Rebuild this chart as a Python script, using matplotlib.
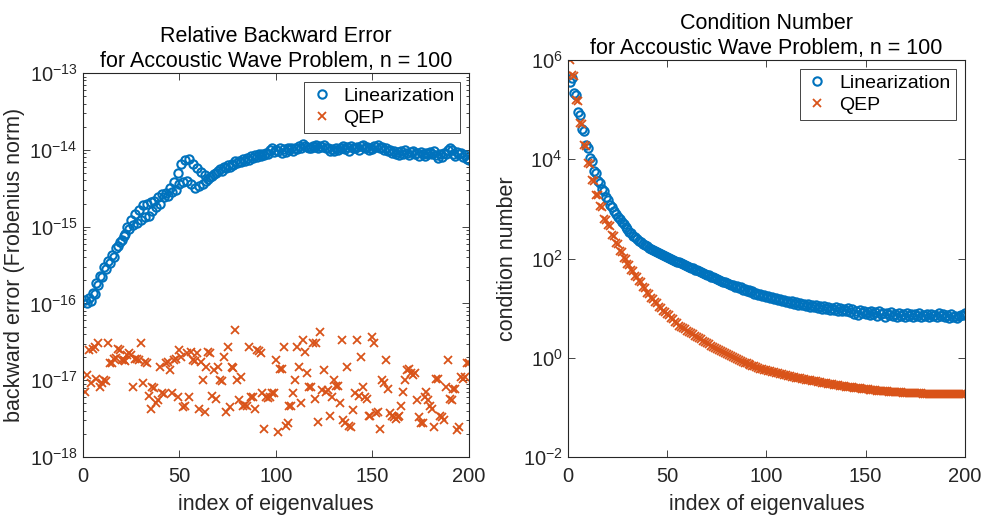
import numpy as np
import matplotlib
matplotlib.use("Agg")
import matplotlib.pyplot as plt
from matplotlib.ticker import NullFormatter, FixedLocator

plt.rcParams['font.family'] = ['Liberation Sans', 'DejaVu Sans']
plt.rcParams['mathtext.fontset'] = 'custom'
plt.rcParams['mathtext.rm'] = 'Liberation Sans'
plt.rcParams['mathtext.it'] = 'Liberation Sans'
plt.rcParams['mathtext.default'] = 'regular'

BLUE = '#0072BD'
ORANGE = '#D95319'
AXCOL = '#262626'

# log10 of relative backward error, linearization approach
lin_err_exp = [
    -15.96, -16.00, -15.93, -15.97, -15.86, -15.88, -15.74, -15.76, -15.64, -15.66,
    -15.53, -15.55, -15.45, -15.47, -15.37, -15.39, -15.28, -15.25, -15.20, -15.17,
    -15.12, -15.10, -15.00, -15.03, -14.92, -14.98, -14.84, -14.95, -14.78, -14.92,
    -14.72, -14.88, -14.70, -14.86, -14.68, -14.80, -14.67, -14.75, -14.62, -14.70,
    -14.58, -14.62, -14.56, -14.60, -14.50, -14.55, -14.42, -14.52, -14.30, -14.45,
    -14.18, -14.42, -14.13, -14.40, -14.12, -14.44, -14.18, -14.50, -14.24, -14.47,
    -14.29, -14.44, -14.33, -14.40, -14.38, -14.36, -14.34, -14.32, -14.30, -14.28,
    -14.25, -14.27, -14.22, -14.24, -14.20, -14.22, -14.18, -14.20, -14.15, -14.17,
    -14.14, -14.16, -14.12, -14.15, -14.10, -14.13, -14.08, -14.10, -14.07, -14.09,
    -14.06, -14.08, -14.05, -14.07, -14.04, -14.06, -14.00, -13.98, -14.03, -14.00,
    -14.02, -13.98, -14.04, -13.99, -14.03, -13.98, -14.00, -13.97, -14.01, -13.98,
    -13.99, -13.95, -13.97, -13.93, -13.95, -13.96, -13.98, -13.97, -13.95, -13.96,
    -13.94, -13.97, -13.95, -13.96, -13.94, -13.98, -13.97, -14.01, -13.99, -14.02,
    -13.98, -14.00, -13.97, -13.98, -13.95, -13.99, -13.96, -14.01, -13.95, -13.97,
    -13.98, -13.96, -14.00, -13.95, -13.94, -13.98, -13.96, -14.00, -13.97, -13.99,
    -13.95, -13.96, -13.94, -13.97, -13.96, -14.00, -13.98, -14.02, -14.00, -14.04,
    -14.01, -14.06, -14.03, -14.07, -14.02, -14.05, -14.00, -14.04, -14.07, -14.03,
    -14.01, -14.06, -14.04, -14.08, -14.03, -14.05, -14.08, -14.04, -14.06, -14.03,
    -14.05, -14.02, -14.07, -14.10, -14.06, -14.09, -14.04, -14.06, -14.00, -13.98,
    -14.00, -14.05, -14.08, -14.03, -14.06, -14.04, -14.09, -14.07, -14.12, -14.13,
]

# log10 of relative backward error, QEP solved directly
qep_err_exp = [
    -17.15, -16.93, -16.60, -17.04, -16.59, -16.57, -16.98, -16.52, -17.09, -17.04,
    -17.00, -17.01, -16.52, -16.78, -16.78, -16.72, -16.71, -16.59, -16.61, -16.74,
    -16.74, -16.75, -16.67, -16.65, -16.67, -17.09, -16.72, -16.73, -16.74, -16.52,
    -17.04, -16.76, -16.77, -17.20, -17.37, -17.09, -17.10, -17.30, -17.26, -16.83,
    -17.17, -17.18, -16.78, -16.76, -16.87, -17.17, -16.74, -16.73, -17.22, -16.61,
    -16.70, -17.35, -17.34, -16.65, -17.22, -16.63, -16.74, -16.75, -16.65, -17.37,
    -16.76, -17.00, -17.41, -16.83, -16.63, -16.64, -17.20, -16.87, -17.24, -16.83,
    -17.00, -17.01, -16.70, -17.41, -16.57, -17.35, -16.83, -16.84, -16.35, -17.00,
    -17.26, -16.96, -17.33, -17.32, -17.33, -16.57, -17.22, -17.22, -17.37, -16.61,
    -16.62, -16.65, -17.17, -17.63, -17.22, -17.23, -17.22, -17.17, -17.17, -16.74,
    -17.67, -16.85, -16.86, -16.57, -17.59, -17.56, -17.33, -17.33, -17.17, -17.00,
    -16.57, -16.83, -17.30, -16.48, -16.63, -16.91, -17.09, -17.09, -16.52, -17.24,
    -16.52, -17.54, -16.37, -17.13, -16.87, -17.15, -17.13, -17.46, -17.22, -17.00,
    -17.07, -17.07, -17.30, -16.48, -17.52, -17.56, -16.83, -17.59, -17.61, -17.39,
    -17.17, -16.48, -17.20, -16.70, -17.09, -17.22, -17.24, -17.46, -17.46, -16.44,
    -16.52, -17.43, -17.41, -17.63, -17.00, -17.04, -16.74, -17.11, -17.43, -17.46,
    -17.48, -17.50, -17.48, -17.46, -17.33, -17.15, -17.00, -16.87, -16.85, -16.91,
    -16.93, -16.91, -17.26, -17.48, -17.56, -17.56, -17.22, -17.15, -17.26, -17.33,
    -17.37, -17.61, -16.98, -16.98, -17.46, -17.48, -17.52, -17.09, -16.74, -17.24,
    -17.26, -17.11, -17.11, -17.65, -17.61, -16.96, -16.98, -16.96, -16.78, -16.78,
]

# log10 of condition numbers, linearization approach
lin_cond_exp = [
    5.56, 5.64, 5.33, 5.30, 4.95, 4.90, 4.60, 4.56, 4.28, 4.22,
    4.02, 3.96, 3.76, 3.72, 3.57, 3.52, 3.40, 3.36, 3.23, 3.18,
    3.08, 3.03, 2.95, 2.90, 2.83, 2.79, 2.73, 2.69, 2.63, 2.59,
    2.54, 2.51, 2.46, 2.43, 2.39, 2.36, 2.33, 2.30, 2.27, 2.25,
    2.22, 2.20, 2.17, 2.16, 2.13, 2.12, 2.09, 2.07, 2.05, 2.03,
    2.02, 1.99, 1.97, 1.96, 1.93, 1.92, 1.90, 1.88, 1.86, 1.84,
    1.83, 1.81, 1.80, 1.77, 1.76, 1.74, 1.73, 1.70, 1.69, 1.67,
    1.66, 1.63, 1.62, 1.60, 1.58, 1.57, 1.55, 1.52, 1.53, 1.50,
    1.49, 1.46, 1.47, 1.43, 1.44, 1.40, 1.42, 1.37, 1.39, 1.35,
    1.36, 1.32, 1.34, 1.29, 1.31, 1.27, 1.29, 1.24, 1.26, 1.23,
    1.24, 1.20, 1.22, 1.18, 1.21, 1.16, 1.19, 1.14, 1.17, 1.13,
    1.15, 1.10, 1.14, 1.09, 1.12, 1.07, 1.10, 1.06, 1.09, 1.05,
    1.08, 1.03, 1.07, 1.02, 1.06, 1.01, 1.05, 0.99, 1.04, 0.98,
    1.02, 0.97, 1.01, 0.96, 1.02, 0.95, 1.00, 0.94, 0.99, 0.95,
    1.00, 0.93, 0.98, 0.88, 0.94, 0.87, 0.96, 0.90, 0.95, 0.88,
    0.93, 0.86, 0.95, 0.89, 0.92, 0.85, 0.94, 0.88, 0.91, 0.83,
    0.90, 0.86, 0.92, 0.84, 0.89, 0.82, 0.90, 0.85, 0.88, 0.83,
    0.91, 0.84, 0.89, 0.82, 0.88, 0.85, 0.90, 0.83, 0.87, 0.84,
    0.89, 0.82, 0.88, 0.85, 0.87, 0.83, 0.90, 0.84, 0.88, 0.82,
    0.86, 0.81, 0.88, 0.83, 0.85, 0.80, 0.84, 0.86, 0.87, 0.90,
]

# log10 of condition numbers, QEP solved directly
qep_cond_exp = [
    6.00, 5.69, 5.67, 5.20, 5.18, 4.74, 4.72, 4.28, 4.26, 3.92,
    3.90, 3.58, 3.56, 3.29, 3.27, 3.05, 3.03, 2.80, 2.78, 2.68,
    2.66, 2.48, 2.46, 2.31, 2.29, 2.15, 2.13, 2.01, 1.99, 1.88,
    1.86, 1.76, 1.74, 1.65, 1.63, 1.54, 1.52, 1.42, 1.40, 1.31,
    1.29, 1.21, 1.19, 1.12, 1.10, 1.03, 1.01, 0.95, 0.93, 0.88,
    0.86, 0.81, 0.79, 0.73, 0.71, 0.65, 0.63, 0.59, 0.57, 0.54,
    0.52, 0.49, 0.47, 0.44, 0.42, 0.39, 0.37, 0.34, 0.32, 0.29,
    0.27, 0.24, 0.22, 0.19, 0.17, 0.15, 0.13, 0.11, 0.09, 0.07,
    0.05, 0.03, 0.01, -0.01, -0.03, -0.05, -0.07, -0.08, -0.10, -0.11,
    -0.13, -0.14, -0.16, -0.17, -0.19, -0.20, -0.22, -0.22, -0.24, -0.24,
    -0.26, -0.27, -0.28, -0.29, -0.30, -0.31, -0.32, -0.33, -0.34, -0.35,
    -0.36, -0.37, -0.38, -0.39, -0.40, -0.40, -0.41, -0.42, -0.43, -0.44,
    -0.44, -0.45, -0.46, -0.47, -0.47, -0.48, -0.49, -0.50, -0.50, -0.51,
    -0.52, -0.53, -0.53, -0.54, -0.55, -0.55, -0.56, -0.57, -0.57, -0.58,
    -0.58, -0.59, -0.59, -0.60, -0.60, -0.61, -0.61, -0.62, -0.62, -0.63,
    -0.63, -0.64, -0.64, -0.65, -0.65, -0.66, -0.66, -0.66, -0.67, -0.67,
    -0.67, -0.68, -0.68, -0.68, -0.69, -0.69, -0.69, -0.69, -0.70, -0.70,
    -0.70, -0.70, -0.70, -0.71, -0.71, -0.71, -0.71, -0.71, -0.72, -0.72,
    -0.72, -0.72, -0.72, -0.72, -0.72, -0.72, -0.73, -0.73, -0.73, -0.73,
    -0.73, -0.73, -0.73, -0.73, -0.73, -0.73, -0.73, -0.73, -0.73, -0.73,
]

series_labels = ['Linearization', 'QEP']
xticks = [0, 50, 100, 150, 200]
err_decades = [-18, -17, -16, -15, -14, -13]
cond_decades = [-2, 0, 2, 4, 6]

for s in (lin_err_exp, qep_err_exp, lin_cond_exp, qep_cond_exp):
    assert len(s) == 200, len(s)

idx = np.arange(1, 201)

fig = plt.figure(figsize=(9.82, 5.21), dpi=100)
ax1 = fig.add_axes([0.0845, 0.1228, 0.393, 0.737])
ax2 = fig.add_axes([0.5784, 0.1228, 0.404, 0.762])

FS = 15.5     # titles and axis labels
TFS = 14.5    # tick labels
LFS = 14      # legend entries


def style_axes(ax):
    ax.set_yscale('log')
    ax.set_xlim(0, 200)
    ax.set_xticks(xticks)
    for sp in ax.spines.values():
        sp.set_color(AXCOL)
        sp.set_linewidth(0.8)
    ax.tick_params(which='both', direction='in', top=True, right=True,
                   colors=AXCOL, labelsize=TFS, width=0.6)
    ax.tick_params(which='major', length=5)
    ax.tick_params(which='minor', length=2.5)
    ax.tick_params(axis='x', pad=7)
    ax.tick_params(axis='y', pad=4)
    ax.tick_params(axis='x', which='minor', bottom=False, top=False)
    ax.yaxis.set_minor_formatter(NullFormatter())


def draw_pair(ax, a, b):
    ax.plot(idx, 10.0 ** np.array(a), linestyle='none', marker='o',
            markersize=6.0, markerfacecolor='none', markeredgecolor=BLUE,
            markeredgewidth=1.5, label=series_labels[0])
    ax.plot(idx, 10.0 ** np.array(b), linestyle='none', marker='x',
            markersize=5.8, color=ORANGE, markeredgewidth=1.3,
            label=series_labels[1])


def add_legend(ax):
    leg = ax.legend(loc='upper right', fontsize=LFS, handlelength=1.2,
                    handletextpad=0.5, borderpad=0.3, labelspacing=0.2,
                    fancybox=False, edgecolor=AXCOL, framealpha=1,
                    borderaxespad=0.45)
    leg.get_frame().set_linewidth(0.6)


# left panel: backward errors
draw_pair(ax1, lin_err_exp, qep_err_exp)
style_axes(ax1)
ax1.set_ylim(10.0 ** err_decades[0], 10.0 ** err_decades[-1])
ax1.yaxis.set_major_locator(FixedLocator([10.0 ** e for e in err_decades]))
ax1.yaxis.set_minor_locator(FixedLocator(
    [m * 10.0 ** e for e in err_decades[:-1] for m in range(2, 10)]))
ax1.set_title('Relative Backward Error\nfor Accoustic Wave Problem, n = 100',
              fontsize=FS, color='black', pad=4, linespacing=1.3)
ax1.set_xlabel('index of eigenvalues', fontsize=FS, color=AXCOL, labelpad=6)
ax1.set_ylabel('backward error (Frobenius norm)', fontsize=FS, color=AXCOL,
               labelpad=3)
add_legend(ax1)

# right panel: condition numbers
draw_pair(ax2, lin_cond_exp, qep_cond_exp)
style_axes(ax2)
ax2.set_ylim(10.0 ** cond_decades[0], 10.0 ** cond_decades[-1])
ax2.yaxis.set_major_locator(FixedLocator([10.0 ** e for e in cond_decades]))
ax2.yaxis.set_minor_locator(FixedLocator([]))
ax2.set_title('Condition Number\nfor Accoustic Wave Problem, n = 100',
              fontsize=FS, color='black', pad=4, linespacing=1.3)
ax2.set_xlabel('index of eigenvalues', fontsize=FS, color=AXCOL, labelpad=6)
ax2.set_ylabel('condition number', fontsize=FS, color=AXCOL, labelpad=3)
add_legend(ax2)

fig.savefig('out.png', dpi=100, facecolor='white')
